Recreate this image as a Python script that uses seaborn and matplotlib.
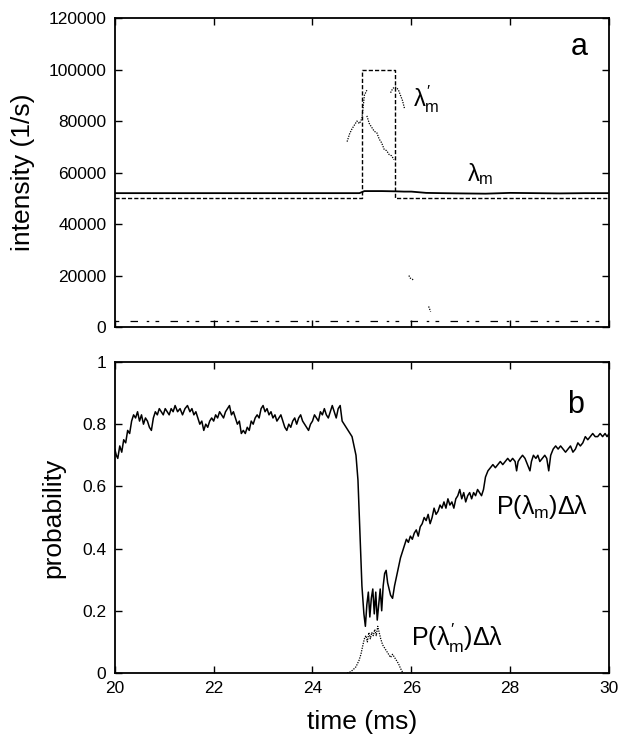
import numpy as np
import pandas as pd
import matplotlib
matplotlib.use("Agg")
import matplotlib.pyplot as plt
import seaborn as sns

# ---------------- data ----------------
# panel a: intensities (1/s)
lam_m_t = [20.0, 21.0, 22.0, 23.0, 24.0, 24.95, 25.05, 25.4, 25.7, 25.85, 26.0, 26.3, 26.6, 27.0, 27.5, 28.0, 28.5, 29.0, 29.5, 30.0]
lam_m_v = [52000, 52000, 52000, 52000, 52000, 52000, 52800, 52800, 52700, 52600, 52600, 52100, 52000, 51900, 51800, 52100, 52000, 51900, 52000, 52000]

source_t = [20.0, 25.0, 25.0, 25.67, 25.67, 30.0]
source_v = [50000, 50000, 100000, 100000, 50000, 50000]

lamp_t1 = [24.7, 24.75, 24.8, 24.85, 24.9, 24.95, 25.0, 25.05, 25.1]
lamp_v1 = [72000, 75000, 77000, 78500, 80000, 79000, 81000, 90000, 92000]
lamp_t2 = [25.1, 25.15, 25.2, 25.25, 25.3, 25.35, 25.4, 25.45, 25.5, 25.55, 25.6, 25.65]
lamp_v2 = [82000, 79000, 77500, 76000, 75500, 73000, 71500, 69000, 68500, 67000, 66500, 65000]
lamp_t3 = [25.58, 25.62, 25.66, 25.7, 25.74, 25.78, 25.82, 25.86]
lamp_v3 = [91000, 92500, 93200, 93000, 92000, 90000, 88000, 85000]
lamp_t4 = [25.95, 25.98, 26.02, 26.05]
lamp_v4 = [20000, 19000, 18600, 18000]
lamp_t5 = [26.35, 26.37, 26.39]
lamp_v5 = [8000, 7000, 6000]
low_t = [20.0, 30.0]
low_v = [2400, 2400]

# panel b: probabilities
p_t = [20.0, 20.03, 20.06, 20.1, 20.14, 20.18, 20.22, 20.26, 20.3, 20.34, 20.38, 20.42, 20.46, 20.5, 20.54,
       20.58, 20.62, 20.66, 20.7, 20.74, 20.78, 20.82, 20.86, 20.9, 20.94, 20.98, 21.02, 21.06, 21.1, 21.14,
       21.18, 21.22, 21.27, 21.32, 21.37, 21.42, 21.47, 21.52, 21.56, 21.6, 21.64, 21.68, 21.72, 21.76, 21.8,
       21.84, 21.88, 21.92, 21.96, 22.0, 22.04, 22.08, 22.12, 22.16, 22.2, 22.24, 22.28, 22.32, 22.36, 22.4,
       22.44, 22.48, 22.52, 22.56, 22.6, 22.64, 22.68, 22.72, 22.76, 22.8, 22.84, 22.88, 22.92, 22.96, 23.0,
       23.04, 23.08, 23.12, 23.16, 23.2, 23.24, 23.28, 23.32, 23.36, 23.4, 23.44, 23.48, 23.52, 23.56, 23.6,
       23.64, 23.68, 23.72, 23.76, 23.8, 23.84, 23.88, 23.92, 23.96, 24.0, 24.04, 24.08, 24.12, 24.16, 24.2,
       24.24, 24.28, 24.32, 24.36, 24.4, 24.44, 24.48, 24.52, 24.56, 24.6, 24.64, 24.68, 24.72, 24.76, 24.8,
       24.84, 24.88, 24.92, 24.96, 25.0, 25.04, 25.07, 25.1, 25.13, 25.16, 25.19, 25.22, 25.25, 25.28, 25.31,
       25.34, 25.37, 25.4, 25.43, 25.46, 25.49, 25.52, 25.55, 25.58, 25.62, 25.66, 25.7, 25.74, 25.78, 25.82,
       25.86, 25.9, 25.94, 25.98, 26.02, 26.06, 26.1, 26.14, 26.18, 26.22, 26.26, 26.3, 26.34, 26.38, 26.42,
       26.46, 26.5, 26.54, 26.58, 26.62, 26.66, 26.7, 26.74, 26.78, 26.82, 26.86, 26.9, 26.94, 26.98, 27.02,
       27.06, 27.1, 27.14, 27.18, 27.22, 27.26, 27.3, 27.34, 27.38, 27.42, 27.46, 27.5, 27.55, 27.6, 27.65,
       27.7, 27.75, 27.8, 27.85, 27.9, 27.95, 28.0, 28.05, 28.1, 28.13, 28.16, 28.2, 28.25, 28.3, 28.35,
       28.4, 28.43, 28.47, 28.52, 28.56, 28.6, 28.65, 28.7, 28.74, 28.78, 28.82, 28.87, 28.92, 28.97, 29.02,
       29.07, 29.12, 29.17, 29.22, 29.27, 29.32, 29.37, 29.42, 29.47, 29.52, 29.57, 29.62, 29.67, 29.72, 29.77,
       29.82, 29.87, 29.92, 29.96, 30.0]
p_v = [0.72, 0.70, 0.69, 0.73, 0.71, 0.75, 0.74, 0.78, 0.77, 0.81, 0.83, 0.82, 0.84, 0.81, 0.83,
       0.80, 0.82, 0.81, 0.79, 0.78, 0.82, 0.84, 0.83, 0.85, 0.84, 0.83, 0.85, 0.84, 0.83, 0.85,
       0.84, 0.86, 0.84, 0.85, 0.83, 0.85, 0.86, 0.84, 0.85, 0.83, 0.84, 0.82, 0.80, 0.81, 0.78,
       0.80, 0.79, 0.81, 0.82, 0.81, 0.83, 0.82, 0.84, 0.83, 0.82, 0.84, 0.85, 0.86, 0.83, 0.84,
       0.82, 0.80, 0.81, 0.77, 0.78, 0.77, 0.79, 0.78, 0.81, 0.80, 0.82, 0.83, 0.82, 0.85, 0.86,
       0.84, 0.85, 0.83, 0.84, 0.82, 0.83, 0.81, 0.82, 0.83, 0.81, 0.79, 0.78, 0.80, 0.79, 0.81,
       0.82, 0.80, 0.82, 0.83, 0.81, 0.80, 0.79, 0.78, 0.80, 0.81, 0.83, 0.82, 0.81, 0.84, 0.83,
       0.85, 0.83, 0.82, 0.84, 0.86, 0.84, 0.82, 0.85, 0.86, 0.81, 0.80, 0.79, 0.78, 0.77, 0.76,
       0.73, 0.70, 0.62, 0.45, 0.28, 0.19, 0.15, 0.22, 0.26, 0.18, 0.24, 0.27, 0.19, 0.26, 0.17,
       0.22, 0.27, 0.20, 0.28, 0.32, 0.33, 0.29, 0.27, 0.25, 0.24, 0.28, 0.31, 0.34, 0.37, 0.39,
       0.41, 0.43, 0.42, 0.44, 0.43, 0.45, 0.46, 0.44, 0.47, 0.48, 0.50, 0.49, 0.51, 0.48, 0.50,
       0.53, 0.51, 0.52, 0.54, 0.53, 0.55, 0.53, 0.56, 0.54, 0.55, 0.53, 0.56, 0.57, 0.59, 0.56,
       0.58, 0.55, 0.57, 0.58, 0.56, 0.58, 0.57, 0.59, 0.58, 0.57, 0.59, 0.63, 0.65, 0.66, 0.67,
       0.66, 0.67, 0.68, 0.67, 0.68, 0.69, 0.68, 0.69, 0.68, 0.65, 0.68, 0.69, 0.70, 0.69, 0.67,
       0.65, 0.68, 0.70, 0.69, 0.70, 0.68, 0.69, 0.70, 0.69, 0.65, 0.70, 0.72, 0.73, 0.72, 0.73,
       0.72, 0.71, 0.72, 0.73, 0.71, 0.72, 0.74, 0.73, 0.74, 0.76, 0.75, 0.76, 0.77, 0.76, 0.76,
       0.77, 0.76, 0.77, 0.76, 0.77]

pp_t = [24.7, 24.76, 24.82, 24.88, 24.94, 24.98, 25.02, 25.05, 25.08, 25.11, 25.14, 25.17, 25.2, 25.23,
        25.26, 25.29, 25.32, 25.35, 25.38, 25.42, 25.46, 25.5, 25.54, 25.58, 25.62, 25.66, 25.7, 25.74, 25.78, 25.83]
pp_v = [0.0, 0.003, 0.01, 0.02, 0.04, 0.06, 0.09, 0.11, 0.12, 0.10, 0.13, 0.11, 0.13, 0.12,
        0.14, 0.12, 0.15, 0.13, 0.11, 0.09, 0.08, 0.07, 0.06, 0.05, 0.06, 0.05, 0.04, 0.03, 0.015, 0.0]

x_ticks = [20, 22, 24, 26, 28, 30]
ya_ticks = [0, 20000, 40000, 60000, 80000, 100000, 120000]
yb_ticks = [0, 0.2, 0.4, 0.6, 0.8, 1]
yb_labels = ["0", "0.2", "0.4", "0.6", "0.8", "1"]

# ---------------- style ----------------
sns.set_theme(style="ticks")
plt.rcParams["font.family"] = ["Liberation Sans", "DejaVu Sans"]
plt.rcParams["mathtext.fontset"] = "custom"
plt.rcParams["mathtext.rm"] = "Liberation Sans"
plt.rcParams["mathtext.it"] = "Liberation Sans"
for key in ["text.color", "axes.labelcolor", "xtick.color", "ytick.color", "axes.edgecolor"]:
    plt.rcParams[key] = "black"

fig = plt.figure(figsize=(6.24, 7.35), dpi=100)
axa = fig.add_axes([0.184, 0.555, 0.792, 0.4205])
axb = fig.add_axes([0.184, 0.0844, 0.792, 0.4231])

k = "black"
# panel a
sns.lineplot(x=lam_m_t, y=lam_m_v, ax=axa, color=k, lw=1.3, estimator=None, sort=False)
sns.lineplot(x=source_t, y=source_v, ax=axa, color=k, lw=1.0, estimator=None, sort=False, linestyle=(0, (3, 1.5)))
for tt, vv in [(lamp_t1, lamp_v1), (lamp_t2, lamp_v2), (lamp_t3, lamp_v3), (lamp_t4, lamp_v4), (lamp_t5, lamp_v5)]:
    sns.lineplot(x=tt, y=vv, ax=axa, color=k, lw=0.9, estimator=None, sort=False, linestyle=(0, (1, 1)))
sns.lineplot(x=low_t, y=low_v, ax=axa, color=k, lw=0.9, estimator=None, sort=False, linestyle=(0, (3, 9, 6, 7, 2, 5)))

axa.set_xlim(20, 30)
axa.set_ylim(0, 120000)
axa.set_xticks(x_ticks)
axa.set_xticklabels([])
axa.set_yticks(ya_ticks)
axa.set_yticklabels([str(v) for v in ya_ticks])
axa.set_ylabel("intensity (1/s)", fontsize=19, labelpad=10)
axa.text(29.39, 108700, "a", fontsize=22, ha="center", va="center")
axa.text(26.3, 88500, r"$\lambda^{\prime}_\mathrm{m}$", fontsize=17, ha="center", va="center")
axa.text(27.4, 59500, r"$\lambda_\mathrm{m}$", fontsize=17, ha="center", va="center")

# panel b
sns.lineplot(x=p_t, y=p_v, ax=axb, color=k, lw=1.1, estimator=None, sort=False)
sns.lineplot(x=pp_t, y=pp_v, ax=axb, color=k, lw=0.9, estimator=None, sort=False, linestyle=(0, (1, 1)))
axb.set_xlim(20, 30)
axb.set_ylim(0, 1)
axb.set_xticks(x_ticks)
axb.set_xticklabels([str(v) for v in x_ticks])
axb.set_yticks(yb_ticks)
axb.set_yticklabels(yb_labels)
axb.set_ylabel("probability", fontsize=19, labelpad=12)
axb.set_xlabel("time (ms)", fontsize=19, labelpad=10)
axb.text(29.33, 0.862, "b", fontsize=22, ha="center", va="center")
axb.text(28.65, 0.535, r"P($\lambda_\mathrm{m}$)$\Delta\lambda$", fontsize=18, ha="center", va="center")
axb.text(26.92, 0.11, r"P($\lambda^{\prime}_\mathrm{m}$)$\Delta\lambda$", fontsize=18, ha="center", va="center")

for ax in (axa, axb):
    for s in ax.spines.values():
        s.set_visible(True)
        s.set_linewidth(1.3)
        s.set_color(k)
    ax.tick_params(direction="in", top=True, right=True, length=5, width=1, labelsize=12.5, colors=k, pad=6)
    ax.set_facecolor("white")

fig.savefig("out.png", dpi=100, facecolor="white")
